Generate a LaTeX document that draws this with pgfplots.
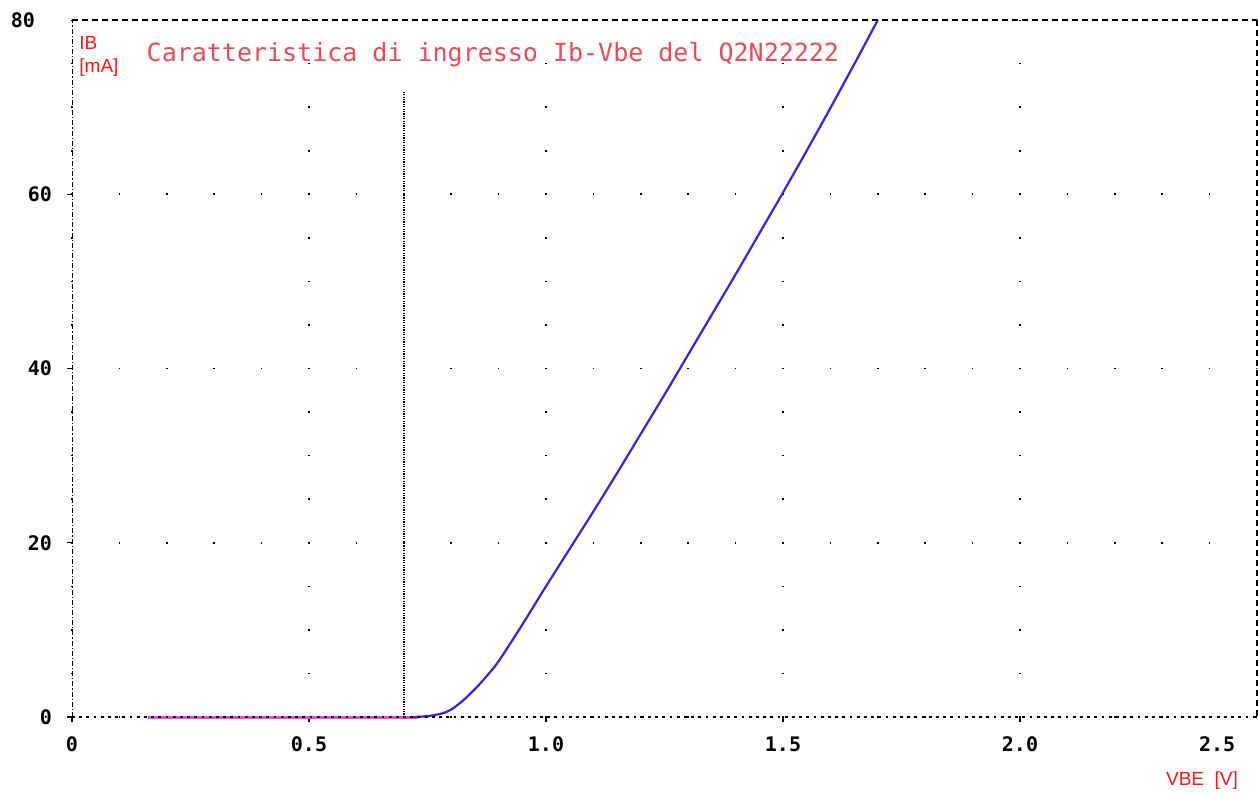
\documentclass[border=0pt]{standalone}
\usepackage{fontspec}
\setmainfont{Liberation Sans}
\setmonofont{DejaVu Sans Mono}
\usepackage{pgfplots}
\pgfplotsset{compat=1.18}
\definecolor{labred}{HTML}{FF1414}
\definecolor{titlered}{HTML}{EA4A55}
\definecolor{curveblue}{HTML}{3A22E0}
\definecolor{flatpink}{HTML}{F040F0}

\begin{document}
\begin{tikzpicture}
% page = 1258x794 px at 0.5pt per px
\path[use as bounding box] (-36pt,-38.5pt) rectangle (593pt,358.5pt);
\begin{axis}[
  at={(0,0)}, anchor=south west,
  scale only axis, width=592.5pt, height=348.5pt,
  xmin=0, xmax=2.5, ymin=0, ymax=80,
  clip=false,
  axis line style={draw=none},
  xtick={0,0.5,1,1.5,2}, xticklabels={0,0.5,1.0,1.5,2.0},
  ytick={0,20,40,60}, yticklabels={0,20,40,60},
  tick pos=left, tick align=outside,
  major tick length=2.5pt,
  tick style={black, line width=0.6pt},
  tick label style={font=\ttfamily\bfseries\fontsize{10}{12}\selectfont},
  xticklabel style={yshift=-4pt},
  yticklabel style={xshift=-4pt},
  grid=major,
  x grid style={black, line width=0.8pt, dash pattern=on 0.8pt off 20.98pt, dash phase=0.4pt},
  y grid style={black, line width=0.8pt, dash pattern=on 0.8pt off 22.9pt, dash phase=0.4pt},
]
% flat part and conduction curve
\addplot[flatpink, line width=1.5pt] coordinates {(0.16,0) (0.73,0)};
\addplot[curveblue, line width=1.1pt, smooth, tension=0.5] coordinates {
  (0.72,0) (0.75,0.1) (0.78,0.4) (0.80,0.85) (0.825,1.9) (0.85,3.2)
  (0.875,4.7) (0.90,6.4) (0.95,10.6) (1.00,15.0) (1.05,19.3) (1.10,23.6)
  (1.15,28.0) (1.20,32.5) (1.25,37.0) (1.30,41.6) (1.35,46.2) (1.40,50.8)
  (1.45,55.5) (1.50,60.2) (1.55,65.0) (1.60,69.9) (1.65,74.9) (1.70,80.0)};
% cursor line at VBE = 0.7 V
\addplot[black, line width=0.7pt, dash pattern=on 0.6pt off 0.6pt] coordinates {(0.7,0) (0.7,71.7)};

% frame
\draw[black, line width=1pt, dash pattern=on 3pt off 2pt] (rel axis cs:0,1) -- (rel axis cs:1,1);
\draw[black, line width=1pt, dash pattern=on 3pt off 2pt] (rel axis cs:1,1) -- (rel axis cs:1,0);
\draw[black, line width=0.5pt, dash pattern=on 2.5pt off 1pt on 0.6pt off 1pt] (rel axis cs:0,0) -- (rel axis cs:0,1);
\draw[black, line width=0.7pt, dash pattern=on 1.4pt off 2.2pt] (rel axis cs:0,0) -- (rel axis cs:1,0);

% tick labels placed apart
\node[font=\ttfamily\bfseries\fontsize{10}{12}\selectfont] at (axis cs:0,80) [xshift=-24.5pt] {80};
\node[font=\ttfamily\bfseries\fontsize{10}{12}\selectfont, anchor=north] at (axis cs:2.416,0) [yshift=-6.5pt] {2.5};

% texts
\node[titlered, font=\ttfamily\fontsize{12.5}{14}\selectfont] at (axis cs:0.888,76) {Caratteristica di ingresso Ib-Vbe del Q2N22222};
\node[labred, font=\fontsize{9.5}{11.5}\selectfont, anchor=north west, inner sep=0pt, align=left] at (axis cs:0.0148,78.2) {IB\\{[mA]}};
\node[labred, font=\fontsize{9.5}{11.5}\selectfont] at (axis cs:2.384,-7.35) {VBE\ \ [V]};
\end{axis}
\end{tikzpicture}
\end{document}
